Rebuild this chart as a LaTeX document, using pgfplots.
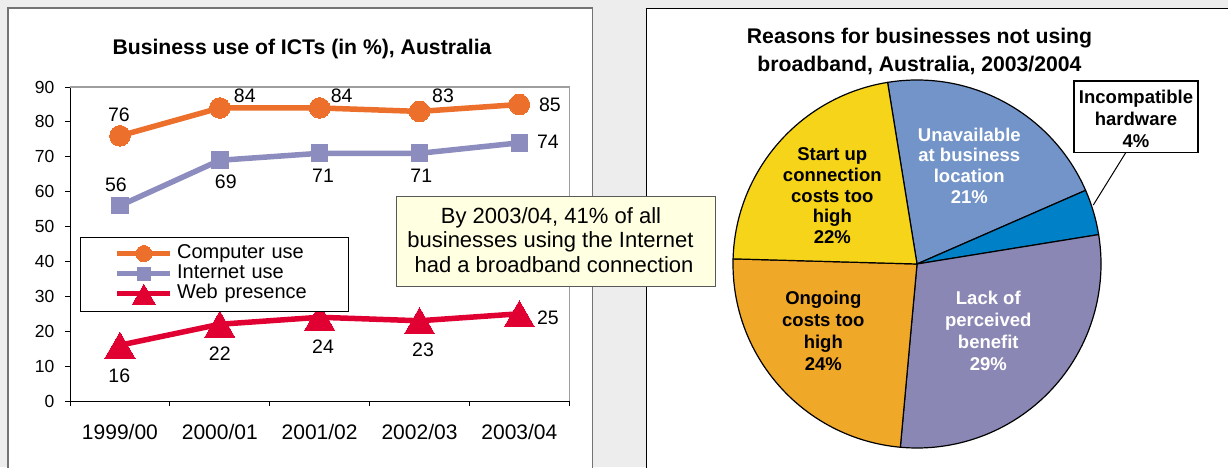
\documentclass[border=0pt]{standalone}
\usepackage{fontspec}
\setmainfont{Liberation Sans}
\usepackage{pgfplots}
\usepackage{pgfplotstable}
\pgfplotsset{compat=1.18}

\definecolor{bg}{RGB}{237,237,237}
\definecolor{cOrange}{RGB}{236,112,44}
\definecolor{cLav}{RGB}{140,140,190}
\definecolor{cRed}{RGB}{225,0,50}
\definecolor{pUnav}{RGB}{115,148,200}
\definecolor{pInc}{RGB}{0,128,198}
\definecolor{pLack}{RGB}{138,135,180}
\definecolor{pOng}{RGB}{240,168,40}
\definecolor{pStart}{RGB}{245,212,25}
\definecolor{noteFill}{RGB}{255,255,225}

% line chart data: x, value, label shift (dx, dy in pt), label
\pgfplotstableread{
x y dx dy lab
0.5 76 -1 21.5 76
1.5 84 25 12 84
2.5 84 22 12 84
3.5 83 23.5 15.5 83
4.5 85 30.5 0 85
}\computer
\pgfplotstableread{
x y dx dy lab
0.5 56 -4 21.3 56
1.5 69 6 -22 69
2.5 71 3.4 -22.5 71
3.5 71 1.8 -22.5 71
4.5 74 28.6 1 74
}\internet
\pgfplotstableread{
x y dx dy lab
0.5 16 -0.6 -26 16
1.5 22 0 -25.5 22
2.5 24 3.4 -25 24
3.5 23 3.5 -24.5 23
4.5 25 28.6 0.5 25
}\web
% pie data (clockwise from the top-left boundary)
\pgfplotstableread{
value color
21 pUnav
4 pInc
29 pLack
24 pOng
22 pStart
}\piedata

\pgfplotsset{
  datalabels/.style={
    nodes near coords,
    point meta=explicit symbolic,
    visualization depends on={\thisrow{dx} \as \dx},
    visualization depends on={\thisrow{dy} \as \dy},
    every node near coord/.style={anchor=center, inner sep=0pt, text=black,
      font=\fontsize{19.5}{20}\selectfont, xshift=\dx pt, yshift=\dy pt},
  }
}

\newcommand\lines[5]{% x(px), first baseline(px), spacing(px), style, list
  \foreach \t [count=\k from 0] in {#5} {
    \node[anchor=base, inner sep=0pt, #4] at (#1pt, {(467-(#2)-\k*(#3))*1pt}) {\t};
  }}

\begin{document}
\begin{tikzpicture}
\useasboundingbox (0,0) rectangle (1228pt,467pt);
\fill[bg] (0,0) rectangle (1228pt,467pt);
% panels
\filldraw[fill=white, draw=black!55, line width=1.6pt] (8pt,-10pt) rectangle (592.5pt,459pt);
\filldraw[fill=white, draw=black, line width=0.9pt] (646.7pt,-10pt) rectangle (1245pt,459pt);

% ---------- line chart ----------
\begin{axis}[
  at={(70pt,66pt)}, anchor=south west,
  scale only axis, width=499.3pt, height=314pt,
  xmin=0, xmax=5, ymin=0, ymax=90,
  axis line style={draw=none},
  xtick={0.5,1.5,2.5,3.5,4.5},
  xticklabels={1999/00,2000/01,2001/02,2002/03,2003/04},
  minor xtick={0,1,2,3,4,5},
  ytick={0,10,...,90},
  tick pos=left, tick align=outside,
  major tick length=5pt, minor tick length=5pt,
  major x tick style={draw=none},
  every tick/.style={black, line width=0.9pt},
  minor tick style={black, line width=0.9pt},
  yticklabel style={font=\fontsize{17.5}{18}\selectfont, inner sep=0pt, anchor=east, xshift=-10.5pt},
  xticklabel style={font=\fontsize{21}{22}\selectfont, inner sep=0pt, anchor=base, yshift=-33pt},
  /pgf/number format/assume math mode=true,
  clip=false,
  legend style={at={(axis cs:0.1,47.1)}, anchor=north west, draw=black, line width=0.8pt,
    fill=white, inner xsep=0pt, inner ysep=6.5pt, row sep=0pt, column sep=0pt,
    font=\fontsize{20}{20}\selectfont,
    nodes={inner sep=0pt, text height=14.5pt, text depth=5.5pt, text width=171pt, align=left}},
  legend cell align=left,
  legend image code/.code={
    \path[draw=none, fill=none] (0pt,0pt) -- (96.7pt,0pt);
    \draw[mark repeat=2, mark phase=2, #1, every mark/.append style={scale=0.78}]
      plot coordinates {(37pt,0pt) (63.5pt,0pt) (90pt,0pt)};},
]
\draw[black, line width=1pt] (rel axis cs:0,1) -- (rel axis cs:0,0) -- (rel axis cs:1,0);
\draw[black!38, line width=1.6pt] (rel axis cs:0,1) -- (rel axis cs:1,1) -- (rel axis cs:1,0);
\addplot[cOrange, line width=5.5pt, mark=*, mark size=10.3pt,
  mark options={solid, line width=0pt, fill=cOrange}, datalabels]
  table[x=x, y=y, meta=lab] {\computer};
\addlegendentry{Computer use}
\addplot[cLav, line width=5.5pt, mark=square*, mark size=8.3pt,
  mark options={solid, line width=0pt, fill=cLav}, datalabels]
  table[x=x, y=y, meta=lab] {\internet};
\addlegendentry{Internet use}
\addplot[cRed, line width=5.5pt, mark=triangle*, mark size=17.5pt,
  mark options={solid, line width=0pt, fill=cRed, yshift=-4.4pt}, datalabels]
  table[x=x, y=y, meta=lab] {\web};
\addlegendentry{Web presence}
\end{axis}

\node[anchor=base, inner sep=0pt, font=\bfseries\fontsize{21.2}{21}\selectfont]
  at (302pt, {(467-55)*1pt}) {Business use of ICTs (in \%), Australia};

% ---------- pie chart ----------
\begin{axis}[
  at={(917pt,203pt)}, anchor=center,
  scale only axis, width=368pt, height=368pt,
  xmin=-1, xmax=1, ymin=-1, ymax=1,
  hide axis, clip=false,
]
\xdef\angA{99.2}
\foreach \i in {0,...,4}{
  \pgfplotstablegetelem{\i}{value}\of{\piedata}\let\v\pgfplotsretval
  \pgfplotstablegetelem{\i}{color}\of{\piedata}\let\c\pgfplotsretval
  \pgfmathsetmacro\angB{\angA-3.6*\v}
  \edef\tmp{\noexpand\filldraw[fill=\c, draw=black, line width=1.2pt, line join=round]
    (axis cs:0,0) -- ++(\angA:184pt) arc[start angle=\angA, end angle=\angB, radius=184pt] -- cycle;}
  \tmp
  \xdef\angA{\angB}
}
\end{axis}

\lines{919.5}{44}{27.5}{font=\bfseries\fontsize{21.2}{21}\selectfont}
  {Reasons for businesses not using,{broadband, Australia, 2003/2004}}

\lines{969.3}{141}{20.7}{text=white, font=\bfseries\fontsize{18.5}{20}\selectfont}
  {Unavailable,at business,location,21\%}
\lines{832.3}{160.6}{20.7}{font=\bfseries\fontsize{18.5}{20}\selectfont}
  {Start up,connection,costs too,high,22\%}
\lines{823.3}{304.3}{21.9}{font=\bfseries\fontsize{18.5}{20}\selectfont}
  {Ongoing,costs too,high,24\%}
\lines{988.3}{304.3}{21.9}{text=white, font=\bfseries\fontsize{18.5}{20}\selectfont}
  {Lack of,perceived,benefit,29\%}

% incompatible hardware callout
\draw[black, line width=1pt] (1125.7pt,{(467-152.7)*1pt}) -- (1093.3pt,{(467-205)*1pt});
\filldraw[fill=white, draw=black, line width=1.4pt] (1074pt,{(467-81)*1pt}) rectangle (1198pt,{(467-152.7)*1pt});
\lines{1136}{103.6}{21.8}{font=\bfseries\fontsize{18.5}{20}\selectfont}
  {Incompatible,hardware,4\%}

% annotation box
\filldraw[fill=noteFill, draw=black!65, line width=1pt] (396pt,{(467-196.7)*1pt}) rectangle (715pt,{(467-286.5)*1pt});
\node[anchor=base, inner sep=0pt, font=\fontsize{22}{22}\selectfont] at (551pt,{(467-223.3)*1pt}) {By 2003/04, 41\% of all};
\node[anchor=base, inner sep=0pt, font=\fontsize{22}{22}\selectfont] at (550.5pt,{(467-247.6)*1pt}) {businesses using the Internet};
\node[anchor=base, inner sep=0pt, font=\fontsize{22}{22}\selectfont] at (554pt,{(467-272)*1pt}) {had a broadband connection};
\end{tikzpicture}
\end{document}
